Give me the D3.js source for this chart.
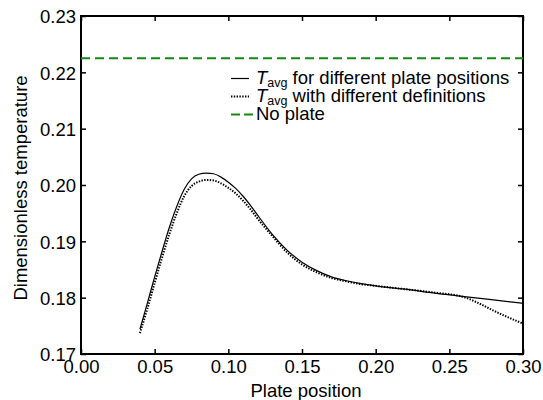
<!DOCTYPE html>
<html>
<head>
<meta charset="utf-8">
<script src="https://cdn.jsdelivr.net/npm/d3@7"></script>
<style>
  html, body { margin: 0; padding: 0; background: #fff; }
  svg { display: block; font-family: "Liberation Sans", Arial, sans-serif; }
</style>
</head>
<body>
<svg id="chart" width="543" height="400"></svg>
<script>
// ---- data ----
const xTicks = [0.00, 0.05, 0.10, 0.15, 0.20, 0.25, 0.30];
const yTicks = [0.17, 0.18, 0.19, 0.20, 0.21, 0.22, 0.23];

const solidX = [0.040, 0.045, 0.050, 0.055, 0.060, 0.065, 0.070, 0.075, 0.080, 0.085, 0.090, 0.095, 0.100, 0.105, 0.110, 0.115, 0.120, 0.130, 0.140, 0.150, 0.160, 0.170, 0.180, 0.190, 0.200, 0.220, 0.240, 0.260, 0.280, 0.300];
const solidY = [0.1744, 0.1790, 0.1837, 0.1882, 0.1925, 0.1962, 0.1992, 0.2011, 0.2019, 0.2021, 0.2020, 0.2014, 0.2005, 0.1994, 0.1980, 0.1964, 0.1946, 0.1912, 0.1884, 0.1863, 0.1848, 0.1837, 0.1830, 0.1825, 0.1821, 0.1815, 0.1808, 0.1802, 0.1796, 0.1790];

const dotX = [0.040, 0.045, 0.050, 0.055, 0.060, 0.065, 0.070, 0.075, 0.080, 0.085, 0.090, 0.095, 0.100, 0.105, 0.110, 0.115, 0.120, 0.130, 0.140, 0.150, 0.160, 0.170, 0.180, 0.190, 0.200, 0.220, 0.240, 0.260, 0.270, 0.280, 0.290, 0.300];
const dotY = [0.1737, 0.1780, 0.1826, 0.1871, 0.1913, 0.1950, 0.1980, 0.1998, 0.2006, 0.2009, 0.2008, 0.2003, 0.1995, 0.1985, 0.1972, 0.1957, 0.1940, 0.1909, 0.1880, 0.1859, 0.1845, 0.1835, 0.1829, 0.1824, 0.1821, 0.1815, 0.1809, 0.1801, 0.1790, 0.1777, 0.1765, 0.1754];

const noPlate = 0.2225;

const legendLabels = [
  { main: "T", sub: "avg", rest: " for different plate positions" },
  { main: "T", sub: "avg", rest: " with different definitions" },
  { main: "", sub: "", rest: "No plate" }
];

// ---- layout ----
const svg = d3.select("#chart");
const L = 81, R = 523, T = 16, B = 354;
const x = d3.scaleLinear().domain([0, 0.30]).range([L, R]);
const y = d3.scaleLinear().domain([0.17, 0.23]).range([B, T]);
const FS = 18.5;
const GREEN = "#128a12";

// axes (ticks inward)
const gB = svg.append("g").attr("transform", `translate(0,${B})`)
  .call(d3.axisBottom(x).tickValues(xTicks).tickFormat(d3.format(".2f")).tickSizeInner(-5).tickSizeOuter(0).tickPadding(6));
const gT = svg.append("g").attr("transform", `translate(0,${T})`)
  .call(d3.axisTop(x).tickValues(xTicks).tickFormat("").tickSizeInner(-5).tickSizeOuter(0));
const gL = svg.append("g").attr("transform", `translate(${L},0)`)
  .call(d3.axisLeft(y).tickValues(yTicks).tickFormat(d3.format(".2f")).tickSizeInner(-5).tickSizeOuter(0).tickPadding(5));
const gR = svg.append("g").attr("transform", `translate(${R},0)`)
  .call(d3.axisRight(y).tickValues(yTicks).tickFormat("").tickSizeInner(-5).tickSizeOuter(0));

[gB, gT, gL, gR].forEach(g => {
  g.select(".domain").remove();
  g.selectAll(".tick line").attr("stroke", "#000").attr("stroke-width", 1.5);
  g.selectAll(".tick text").attr("fill", "#000").style("font-size", FS + "px").style("font-family", "'Liberation Sans', Arial, sans-serif");
});
gL.selectAll(".tick text").attr("dy", "0.36em");

// frame
svg.append("rect").attr("x", L).attr("y", T).attr("width", R - L).attr("height", B - T)
  .attr("fill", "none").attr("stroke", "#000").attr("stroke-width", 2);

// clip
svg.append("clipPath").attr("id", "clip").append("rect")
  .attr("x", L).attr("y", T).attr("width", R - L).attr("height", B - T);
const plot = svg.append("g").attr("clip-path", "url(#clip)");

// no plate line
plot.append("line").attr("x1", x(0)).attr("x2", x(0.30)).attr("y1", y(noPlate)).attr("y2", y(noPlate))
  .attr("stroke", GREEN).attr("stroke-width", 2).attr("stroke-dasharray", "9 5");

const line = d3.line().x(d => x(d[0])).y(d => y(d[1])).curve(d3.curveMonotoneX);
plot.append("path").datum(solidX.map((v, i) => [v, solidY[i]])).attr("d", line)
  .attr("fill", "none").attr("stroke", "#000").attr("stroke-width", 1.2);
plot.append("path").datum(dotX.map((v, i) => [v, dotY[i]])).attr("d", line)
  .attr("fill", "none").attr("stroke", "#000").attr("stroke-width", 2).attr("stroke-dasharray", "1.4 1.4");

// legend
const legStyles = [
  { stroke: "#000", w: 1.2, dash: null, x2: 249 },
  { stroke: "#000", w: 2, dash: "1.4 1.4", x2: 249 },
  { stroke: GREEN, w: 2, dash: "9 4", x2: 255 }
];
const rowsBase = [84, 102, 120];
legendLabels.forEach((lab, i) => {
  const by = rowsBase[i];
  const s = legStyles[i];
  svg.append("line").attr("x1", 231).attr("x2", s.x2).attr("y1", by - 5.5).attr("y2", by - 5.5)
    .attr("stroke", s.stroke).attr("stroke-width", s.w).attr("stroke-dasharray", s.dash);
  const t = svg.append("text").attr("x", 256).attr("y", by).style("font-size", FS + "px").attr("fill", "#000");
  if (lab.main) {
    t.append("tspan").text(lab.main).style("font-style", "italic");
    t.append("tspan").text(lab.sub).attr("dy", 3).style("font-size", "12.5px");
    t.append("tspan").text(lab.rest).attr("dy", -3);
  } else {
    t.append("tspan").text(lab.rest);
  }
});

// axis titles
svg.append("text").attr("x", 306).attr("y", 397).attr("text-anchor", "middle")
  .style("font-size", FS + "px").text("Plate position");
svg.append("text").attr("transform", `translate(27,${188}) rotate(-90)`).attr("text-anchor", "middle")
  .style("font-size", FS + "px").text("Dimensionless temperature");
</script>
</body>
</html>
